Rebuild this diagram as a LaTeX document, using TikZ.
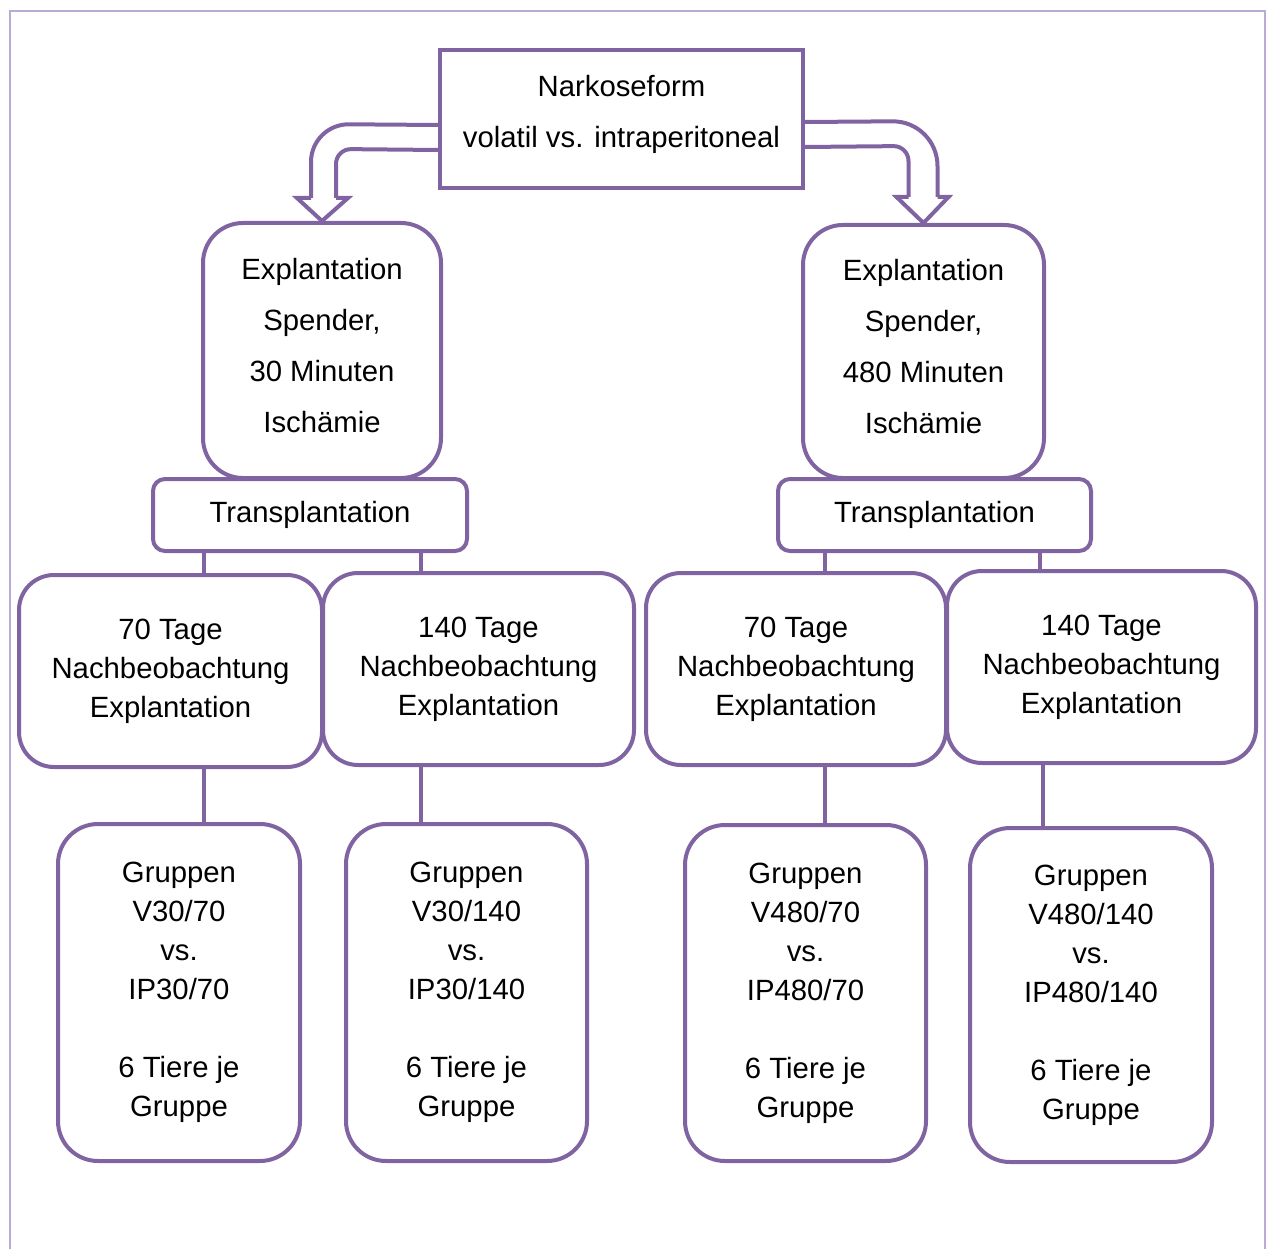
\documentclass[tikz,border=0pt]{standalone}
\usepackage{fontspec}
\setmainfont{Liberation Sans}
\usetikzlibrary{calc}
\definecolor{vio}{RGB}{128,100,162}
\definecolor{framec}{RGB}{185,170,215}
\begin{document}
\begin{tikzpicture}[x=1pt,y=-1pt,
  box/.style={draw=vio,line width=4pt,fill=white,align=center,inner sep=0pt,
     font=\fontsize{29.3}{39}\selectfont},
  bigbox/.style={box,rounded corners=40pt,font=\fontsize{29.3}{51}\selectfont},
  grpbox/.style={box,rounded corners=40pt},
  midbox/.style={box,rounded corners=35pt},
  trbox/.style={box,rounded corners=12pt},
  conn/.style={draw=vio,line width=4pt},
  arr/.style={draw=vio,line width=4pt}]
\useasboundingbox (0,0) rectangle (1267,1249);
\draw[framec,line width=2pt] (10,1249) -- (10,11) -- (1265,11) -- (1265,1249);

\node[box,sharp corners,minimum width=363pt,minimum height=138pt,font=\fontsize{29.3}{51}\selectfont] (top) at (621.5,119) {Narkoseform\\volatil vs. intraperitoneal\\[-36pt]\mbox{}};

\node[bigbox,minimum width=238pt,minimum height=255pt] (expL) at (322,350.5) {Explantation\\Spender,\\30 Minuten\\Ischämie\\[-40pt]\mbox{}};
\node[bigbox,minimum width=241pt,minimum height=253pt] (expR) at (923.5,351.5) {Explantation\\Spender,\\480 Minuten\\Ischämie\\[-40pt]\mbox{}};

\node[trbox,minimum width=314pt,minimum height=72pt] (trL) at (310,515) {Transplantation};
\node[trbox,minimum width=313pt,minimum height=72pt] (trR) at (934.5,515) {Transplantation};

\node[midbox,minimum width=303pt,minimum height=192pt] (n1) at (170.5,671) {70 Tage\\Nachbeobachtung\\Explantation};
\node[midbox,minimum width=311pt,minimum height=192pt] (n2) at (478.5,669) {140 Tage\\Nachbeobachtung\\Explantation};
\node[midbox,minimum width=300pt,minimum height=192pt] (n3) at (796,669) {70 Tage\\Nachbeobachtung\\Explantation};
\node[midbox,minimum width=309pt,minimum height=192pt] (n4) at (1101.5,667) {140 Tage\\Nachbeobachtung\\Explantation};

\node[grpbox,minimum width=242pt,minimum height=337pt] (g1) at (179,992.5) {Gruppen\\V30/70\\vs.\\IP30/70\\\mbox{}\\6 Tiere je\\Gruppe};
\node[grpbox,minimum width=241pt,minimum height=337pt] (g2) at (466.5,992.5) {Gruppen\\V30/140\\vs.\\IP30/140\\\mbox{}\\6 Tiere je\\Gruppe};
\node[grpbox,minimum width=241pt,minimum height=336pt] (g3) at (805.5,993) {Gruppen\\V480/70\\vs.\\IP480/70\\\mbox{}\\6 Tiere je\\Gruppe};
\node[grpbox,minimum width=242pt,minimum height=334pt] (g4) at (1091,995) {Gruppen\\V480/140\\vs.\\IP480/140\\\mbox{}\\6 Tiere je\\Gruppe};

% connectors
\draw[conn] (trL.south -| 204,0) -- (n1.north -| 204,0);
\draw[conn] (trL.south -| 421,0) -- (n2.north -| 421,0);
\draw[conn] (trR.south -| 825,0) -- (n3.north -| 825,0);
\draw[conn] (trR.south -| 1040,0) -- (n4.north -| 1040,0);
\draw[conn] (n1.south -| 204,0) -- (g1.north -| 204,0);
\draw[conn] (n2.south -| 421,0) -- (g2.north -| 421,0);
\draw[conn] (n3.south -| 825,0) -- (g3.north -| 825,0);
\draw[conn] (n4.south -| 1043,0) -- (g4.north -| 1043,0);

% left curved block arrow
\coordinate (lt) at (expL.north);
\draw[arr,rounded corners=38pt] ($(top.west)+(0,6)$) -- ($(lt)+(-11,-97)$) -- ($(lt)+(-11,-23)$);
\draw[arr,rounded corners=15pt] ($(top.west)+(0,31)$) -- ($(lt)+(14,-72)$) -- ($(lt)+(14,-23)$);
\draw[arr,line join=miter] ($(lt)+(14,-23)$) -- ($(lt)+(26,-23)$) -- (lt) -- ($(lt)+(-25,-23)$) -- ($(lt)+(-11,-23)$);

% right curved block arrow
\coordinate (rt) at (expR.north);
\draw[arr,rounded corners=45pt] ($(top.east)+(0,3)$) -- ($(rt)+(14,-102)$) -- ($(rt)+(14,-26)$);
\draw[arr,rounded corners=15pt] ($(top.east)+(0,28)$) -- ($(rt)+(-15,-77)$) -- ($(rt)+(-15,-26)$);
\draw[arr,line join=miter] ($(rt)+(-15,-26)$) -- ($(rt)+(-27,-26)$) -- (rt) -- ($(rt)+(25,-26)$) -- ($(rt)+(14,-26)$);
\end{tikzpicture}
\end{document}
